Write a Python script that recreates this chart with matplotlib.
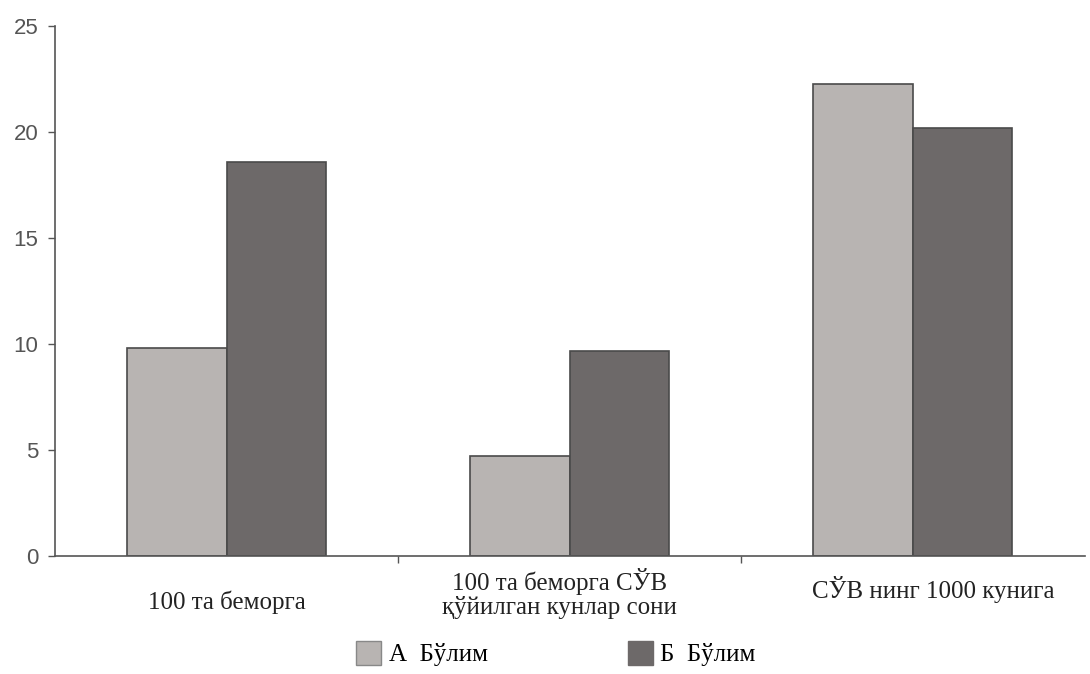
import matplotlib
matplotlib.use("Agg")
import matplotlib.pyplot as plt
import numpy as np
from matplotlib.patches import Rectangle

categories = ["100 та беморга", "100 та беморга СЎВ\nқўйилган кунлар сони", "СЎВ нинг 1000 кунига"]
series_a = [9.8, 4.7, 22.3]
series_b = [18.6, 9.7, 20.2]
series_names = ["А  Бўлим", "Б  Бўлим"]
yticks = [0, 5, 10, 15, 20, 25]

col_a = "#b8b4b2"
col_b = "#6d6969"
edge = "#4a4a4a"

fig = plt.figure(figsize=(10.9, 6.74), dpi=100)
ax = fig.add_axes([0.0505, 0.175, 0.9445, 0.786])

x = np.arange(len(categories))
w = 0.29
ax.bar(x - w / 2, series_a, w, color=col_a, edgecolor=edge, linewidth=1.2)
ax.bar(x + w / 2, series_b, w, color=col_b, edgecolor=edge, linewidth=1.2)

ax.set_xlim(-0.5, 2.5)
ax.set_ylim(0, 25)
for s in ["top", "right"]:
    ax.spines[s].set_visible(False)
for s in ["left", "bottom"]:
    ax.spines[s].set_color("#555555")
    ax.spines[s].set_linewidth(1.2)

ax.set_yticks(yticks)
ax.tick_params(axis="y", length=5, width=1, colors="#555555", labelsize=16, pad=7)
for lab in ax.get_yticklabels():
    lab.set_family(["Liberation Sans", "DejaVu Sans"])
ax.set_xticks([0.5, 1.5])
ax.set_xticklabels([])
ax.tick_params(axis="x", length=5, width=1, colors="#555555", direction="out")

serif = ["Liberation Serif", "DejaVu Serif"]
label_pos = [(0.0, -0.087), (-0.03, -0.07), (0.06, -0.064)]
for i, c in enumerate(categories):
    dx, yy = label_pos[i]
    ax.text(x[i] + dx, yy, c, transform=ax.get_xaxis_transform(),
            ha="center", va="center", fontsize=18, family=serif, color="#222222",
            linespacing=1.05)

# legend
h1 = Rectangle((0, 0), 1, 1, facecolor=col_a, edgecolor="#888888")
h2 = Rectangle((0, 0), 1, 1, facecolor=col_b, edgecolor=col_b)
fig.legend([h1, h2], series_names, loc="lower center", bbox_to_anchor=(0.51, -0.022),
           ncol=2, frameon=False, prop={"family": serif, "size": 18},
           handlelength=1.0, handleheight=1.1, columnspacing=5.6, handletextpad=0.3)

fig.savefig("out.png", dpi=100)
